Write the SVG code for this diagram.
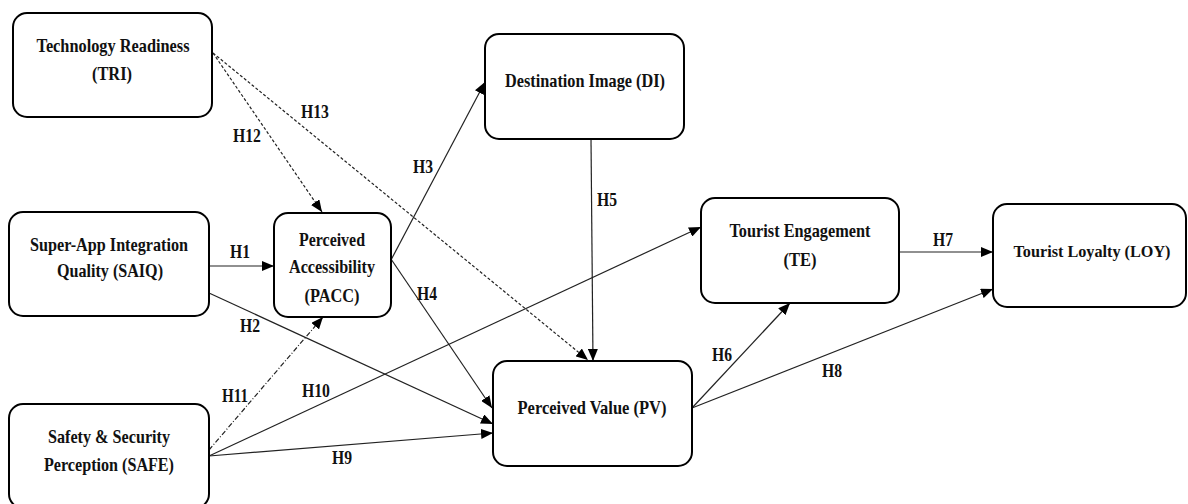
<svg xmlns="http://www.w3.org/2000/svg" width="1188" height="504" viewBox="0 0 1188 504">
<defs>
<marker id="arr" viewBox="0 0 12 10" refX="12" refY="5" markerWidth="12" markerHeight="10" markerUnits="userSpaceOnUse" orient="auto">
<path d="M0,0 L12,5 L0,10 Z" fill="#000"/>
</marker>
</defs>
<style>
.box{fill:#fff;stroke:#000;stroke-width:2}
.t{font-family:"Liberation Serif","Times New Roman",serif;font-weight:bold;font-size:19px;fill:#111;text-anchor:middle}
.c{fill:none;stroke:#222;stroke-width:1.2}
.dash{stroke-dasharray:3,2}
.dd{stroke-dasharray:5,2,1,2}
</style>
<rect width="1188" height="504" fill="#fff"/>
<g id="connectors">
<line class="c" x1="209" y1="266" x2="274" y2="266" marker-end="url(#arr)"/>
<line class="c" x1="209" y1="293" x2="493" y2="424" marker-end="url(#arr)"/>
<line class="c" x1="391" y1="260" x2="485" y2="82" marker-end="url(#arr)"/>
<line class="c" x1="391" y1="259" x2="492" y2="408" marker-end="url(#arr)"/>
<line class="c" x1="591" y1="139" x2="593" y2="361" marker-end="url(#arr)"/>
<line class="c" x1="692" y1="408" x2="790" y2="303" marker-end="url(#arr)"/>
<line class="c" x1="899" y1="252" x2="993" y2="252" marker-end="url(#arr)"/>
<line class="c" x1="692" y1="408" x2="993" y2="289" marker-end="url(#arr)"/>
<line class="c" x1="209" y1="456" x2="493" y2="433" marker-end="url(#arr)"/>
<line class="c" x1="209" y1="456" x2="701" y2="227" marker-end="url(#arr)"/>
<line class="c dd" x1="209" y1="450" x2="323" y2="317" marker-end="url(#arr)"/>
<line class="c dash" x1="213" y1="53" x2="322" y2="212" marker-end="url(#arr)"/>
<line class="c dash" x1="213" y1="53" x2="588" y2="360" marker-end="url(#arr)"/>
<text class="t" x="240" y="258" textLength="20" lengthAdjust="spacingAndGlyphs">H1</text>
<text class="t" x="250" y="332" textLength="20" lengthAdjust="spacingAndGlyphs">H2</text>
<text class="t" x="423" y="173" textLength="20" lengthAdjust="spacingAndGlyphs">H3</text>
<text class="t" x="427" y="300" textLength="20" lengthAdjust="spacingAndGlyphs">H4</text>
<text class="t" x="607" y="206" textLength="20" lengthAdjust="spacingAndGlyphs">H5</text>
<text class="t" x="722" y="361" textLength="20" lengthAdjust="spacingAndGlyphs">H6</text>
<text class="t" x="943" y="246" textLength="20" lengthAdjust="spacingAndGlyphs">H7</text>
<text class="t" x="832" y="377" textLength="20" lengthAdjust="spacingAndGlyphs">H8</text>
<text class="t" x="342" y="464" textLength="20" lengthAdjust="spacingAndGlyphs">H9</text>
<text class="t" x="316" y="397" textLength="28" lengthAdjust="spacingAndGlyphs">H10</text>
<text class="t" x="235" y="402" textLength="26" lengthAdjust="spacingAndGlyphs">H11</text>
<text class="t" x="247" y="142" textLength="28" lengthAdjust="spacingAndGlyphs">H12</text>
<text class="t" x="315" y="118" textLength="28" lengthAdjust="spacingAndGlyphs">H13</text>
</g>
<g id="TRI">
<rect class="box" x="13" y="13" width="199" height="104" rx="14"/>
<text class="t" x="113" y="52" textLength="153" lengthAdjust="spacingAndGlyphs">Technology Readiness</text>
<text class="t" x="112" y="80" textLength="40" lengthAdjust="spacingAndGlyphs">(TRI)</text>
</g>
<g id="SAIQ">
<rect class="box" x="9" y="212" width="200" height="104" rx="14"/>
<text class="t" x="109" y="251" textLength="158" lengthAdjust="spacingAndGlyphs">Super-App Integration</text>
<text class="t" x="110" y="277" textLength="106" lengthAdjust="spacingAndGlyphs">Quality (SAIQ)</text>
</g>
<g id="PACC">
<rect class="box" x="274" y="213" width="117" height="104" rx="14"/>
<text class="t" x="332" y="246" textLength="66" lengthAdjust="spacingAndGlyphs">Perceived</text>
<text class="t" x="332" y="273" textLength="86" lengthAdjust="spacingAndGlyphs">Accessibility</text>
<text class="t" x="332" y="302" textLength="55" lengthAdjust="spacingAndGlyphs">(PACC)</text>
</g>
<g id="SAFE">
<rect class="box" x="9" y="404" width="200" height="104" rx="14"/>
<text class="t" x="109" y="443" textLength="122" lengthAdjust="spacingAndGlyphs">Safety &amp; Security</text>
<text class="t" x="109" y="471" textLength="130" lengthAdjust="spacingAndGlyphs">Perception (SAFE)</text>
</g>
<g id="DI">
<rect class="box" x="485" y="34" width="199" height="105" rx="14"/>
<text class="t" x="585" y="87" textLength="160" lengthAdjust="spacingAndGlyphs">Destination Image (DI)</text>
</g>
<g id="PV">
<rect class="box" x="493" y="361" width="199" height="105" rx="14"/>
<text class="t" x="592" y="414" textLength="149" lengthAdjust="spacingAndGlyphs">Perceived Value (PV)</text>
</g>
<g id="TE">
<rect class="box" x="701" y="198" width="198" height="105" rx="14"/>
<text class="t" x="800" y="237" textLength="141" lengthAdjust="spacingAndGlyphs">Tourist Engagement</text>
<text class="t" x="800" y="266" textLength="33" lengthAdjust="spacingAndGlyphs">(TE)</text>
</g>
<g id="LOY">
<rect class="box" x="993" y="204" width="193" height="103" rx="14"/>
<text class="t" x="1092" y="257" style="font-size:17.5px" textLength="157" lengthAdjust="spacingAndGlyphs">Tourist Loyalty (LOY)</text>
</g>
</svg>
